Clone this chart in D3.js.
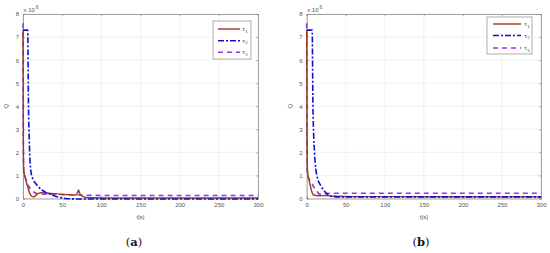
<!DOCTYPE html>
<html><head><meta charset="utf-8">
<script src="https://cdn.jsdelivr.net/npm/d3@7"></script>
<style>body{margin:0;background:#fff}svg{display:block}</style>
</head><body>
<svg id="c" width="550" height="253"></svg>
<script>
// ---- data ----
const xTicks = [0, 50, 100, 150, 200, 250, 300];
const yTicks = [0, 1, 2, 3, 4, 5, 6, 7, 8];
const seriesNames = ["τ1", "τ2", "τ3"];
const captions = ["a", "b"];

// Panel (a)
const tau1A_t = [0, 0.5, 1, 3, 6, 9, 12, 14, 17, 22, 30, 40, 50, 60, 68, 70, 71, 72, 75, 80, 90, 120, 200, 300];
const tau1A_v = [7.3, 2, 1.2, 0.9, 0.5, 0.2, 0.08, 0.07, 0.15, 0.25, 0.24, 0.21, 0.18, 0.16, 0.15, 0.3, 0.37, 0.25, 0.12, 0.05, 0.03, 0.02, 0.02, 0.02];
const tau2A_t = [0, 1, 6, 7, 8, 10, 12, 16, 20, 24, 30, 37, 45, 54, 70, 100, 300];
const tau2A_v = [7.3, 7.3, 7.3, 4, 2.5, 1.2, 0.9, 0.66, 0.5, 0.37, 0.25, 0.15, 0.06, 0, -0.02, -0.02, -0.02];
const tau3A_t = [0, 0.5, 1, 3, 6, 10, 15, 20, 40, 60, 80, 120, 300];
const tau3A_v = [7.6, 2, 1.1, 0.9, 0.6, 0.4, 0.25, 0.2, 0.18, 0.16, 0.14, 0.13, 0.13];

// Panel (b)
const tau1B_t = [0, 0.5, 1, 3, 5, 7, 9, 15, 25, 35, 60, 100, 300];
const tau1B_v = [7.3, 2, 1.2, 0.8, 0.5, 0.25, 0.15, 0.12, 0.13, 0.1, 0.08, 0.08, 0.07];
const tau2B_t = [0, 1, 7, 8, 10, 13, 19, 26, 32, 45, 100, 300];
const tau2B_v = [7.3, 7.3, 7.3, 4, 2, 1, 0.5, 0.2, 0.09, 0.07, 0.07, 0.07];
const tau3B_t = [0, 0.5, 1, 3, 6, 9, 12, 16, 20, 25, 30, 300];
const tau3B_v = [7.6, 2, 1, 0.85, 0.7, 0.5, 0.37, 0.2, 0.18, 0.22, 0.23, 0.23];

const colors = ["#9a3c1c", "#1010cc", "#9933dd"];
const dashes = [null, "6,2,2,2", "5,4"];

const panels = [
  {left: 23, right: 258, series: [[tau1A_t, tau1A_v], [tau2A_t, tau2A_v], [tau3A_t, tau3A_v]],
   legend: {x: 213, y: 21, w: 38, h: 38, rows: [29, 40.7, 52.3], lx0: 218, lx1: 240, tx: 242}, cap: 134},
  {left: 306.7, right: 541, series: [[tau1B_t, tau1B_v], [tau2B_t, tau2B_v], [tau3B_t, tau3B_v]],
   legend: {x: 487, y: 17, w: 45, h: 37, rows: [24, 35.5, 48], lx0: 493, lx1: 521, tx: 524}, cap: 421}
];

const svg = d3.select("#c");
const yTop = 14, yBot = 198.5;

panels.forEach((p, pi) => {
  const x = d3.scaleLinear().domain([0, 300]).range([p.left, p.right]);
  const y = d3.scaleLinear().domain([0, 8]).range([yBot, yTop]);
  const g = svg.append("g");

  // grid
  g.selectAll(".gx").data(xTicks).join("line")
    .attr("x1", d => x(d)).attr("x2", d => x(d)).attr("y1", yTop).attr("y2", yBot)
    .attr("stroke", "#e8e8e8").attr("stroke-width", 0.6);
  g.selectAll(".gy").data(yTicks).join("line")
    .attr("x1", p.left).attr("x2", p.right).attr("y1", d => y(d)).attr("y2", d => y(d))
    .attr("stroke", "#e8e8e8").attr("stroke-width", 0.6);

  // axes
  const ax = d3.axisBottom(x).tickValues(xTicks).tickSize(-2).tickPadding(4);
  const ay = d3.axisLeft(y).tickValues(yTicks).tickSize(-2).tickPadding(4);
  const gx = g.append("g").attr("transform", `translate(0,${yBot})`).call(ax);
  const gy = g.append("g").attr("transform", `translate(${p.left},0)`).call(ay);
  const gx2 = g.append("g").attr("transform", `translate(0,${yTop})`).call(d3.axisTop(x).tickValues(xTicks).tickSize(-2).tickFormat(""));
  const gy2 = g.append("g").attr("transform", `translate(${p.right},0)`).call(d3.axisRight(y).tickValues(yTicks).tickSize(-2).tickFormat(""));
  [gx, gy, gx2, gy2].forEach(a => {
    a.selectAll("path").attr("stroke", "#8a8a8a").attr("stroke-width", 0.8);
    a.selectAll("line").attr("stroke", "#8a8a8a").attr("stroke-width", 0.6);
    a.selectAll("text").attr("fill", "#555").attr("font-size", 6).attr("font-family", "Liberation Sans, Arial, sans-serif");
  });

  // lines
  const line = d3.line().x(d => x(d[0])).y(d => y(d[1])).curve(d3.curveMonotoneX);
  [2, 0, 1].forEach(si => {
    const [tt, vv] = p.series[si];
    const pts = tt.map((t, i) => [t, vv[i]]);
    g.append("path").datum(pts).attr("d", line).attr("fill", "none")
      .attr("stroke", colors[si]).attr("stroke-width", si === 0 ? 1.4 : 1.6)
      .attr("stroke-dasharray", dashes[si]);
  });

  // exponent label
  const ex = g.append("text").attr("x", p.left + 0.5).attr("y", 11.5)
    .attr("font-size", 6).attr("fill", "#555").attr("font-family", "Liberation Sans, Arial, sans-serif");
  ex.append("tspan").text("x 10");
  ex.append("tspan").attr("dy", -3).attr("dx", 1).attr("font-size", 5).text("6");

  // axis labels
  g.append("text").attr("transform", `translate(${p.left - 15},${(yTop + yBot) / 2}) rotate(-90)`)
    .attr("text-anchor", "middle").attr("font-size", 6).attr("fill", "#555")
    .attr("font-family", "Liberation Sans, Arial, sans-serif").text("Q");
  g.append("text").attr("x", (p.left + p.right) / 2).attr("y", 219)
    .attr("text-anchor", "middle").attr("font-size", 6).attr("fill", "#555")
    .attr("font-family", "Liberation Sans, Arial, sans-serif").text("t[s]");

  // legend
  const L = p.legend;
  g.append("rect").attr("x", L.x).attr("y", L.y).attr("width", L.w).attr("height", L.h)
    .attr("fill", "#fff").attr("stroke", "#8a8a8a").attr("stroke-width", 0.7);
  seriesNames.forEach((nm, i) => {
    g.append("line").attr("x1", L.lx0).attr("x2", L.lx1).attr("y1", L.rows[i]).attr("y2", L.rows[i])
      .attr("stroke", colors[i]).attr("stroke-width", i === 0 ? 1.4 : 1.6).attr("stroke-dasharray", dashes[i]);
    const t = g.append("text").attr("x", L.tx).attr("y", L.rows[i] + 2)
      .attr("font-size", 6).attr("fill", "#444").attr("font-family", "DejaVu Serif, serif");
    t.append("tspan").text(nm[0]);
    t.append("tspan").attr("dy", 1.5).attr("font-size", 4).text(nm.slice(1));
  });

  // caption
  const c = svg.append("text").attr("x", p.cap).attr("y", 246).attr("text-anchor", "middle")
    .attr("font-size", 11.5).attr("fill", "#111").attr("font-family", "DejaVu Serif, serif");
  c.append("tspan").text("(");
  c.append("tspan").attr("font-weight", "bold").text(captions[pi]);
  c.append("tspan").text(")");
});
</script>
</body></html>
